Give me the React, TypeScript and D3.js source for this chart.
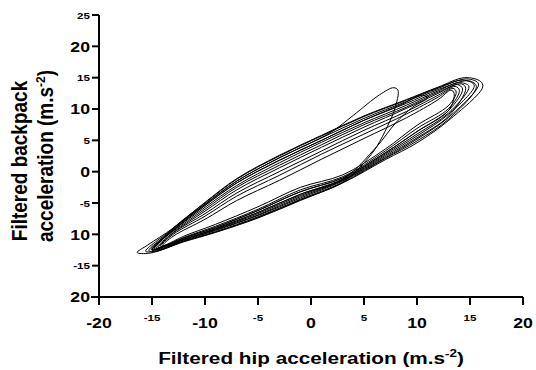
import React from "react";
import * as d3 from "d3";

type Pt = [number, number];

// Hip vs backpack acceleration traces, one closed loop per stride cycle
// (left tip, rising branch, right tip, falling branch)
const loop1: Pt[] = [[-16.4, -12.9], [-15.4, -11.7], [-13, -9.0], [-10, -4.9], [-7, -1.1], [-3, 2.6], [1, 5.8], [5, 8.9], [9, 11.5], [12, 13.5], [14.5, 15.0], [16.0, 14.4], [16.2, 13.5], [13, 8.2], [10, 4.6], [7, 1.9], [3, -1.8], [-1, -4.6], [-5, -7.4], [-9, -9.7], [-12, -11.2], [-15.2, -13.0]];
const loop2: Pt[] = [[-15.6, -12.7], [-13, -9.1], [-10, -5.2], [-7, -1.5], [-3, 2.2], [1, 5.4], [5, 8.5], [9, 11.2], [12, 13.3], [14.7, 14.8], [15.8, 14.0], [13, 8.7], [10, 5.2], [7, 2.2], [3, -1.5], [-1, -4.2], [-5, -7.0], [-9, -9.4], [-12, -11.0], [-14.5, -12.6]];
const loop3: Pt[] = [[-15.0, -12.5], [-13, -9.0], [-10, -5.0], [-7, -1.2], [-3, 2.5], [1, 5.7], [5, 8.8], [9, 11.4], [12, 13.4], [14.3, 14.6], [15.4, 13.8], [13, 9.2], [10, 5.7], [7, 2.6], [3, -1.3], [-1, -3.8], [-5, -6.7], [-9, -9.2], [-12, -10.8], [-14.2, -12.2]];
const loop4: Pt[] = [[-15.3, -12.6], [-13, -9.3], [-10, -5.4], [-7, -1.8], [-3, 1.8], [1, 5.0], [5, 8.2], [9, 10.9], [12, 13.1], [14.9, 14.5], [15.6, 13.6], [13, 8.4], [10, 4.9], [7, 2.1], [3, -1.7], [-1, -4.4], [-5, -7.2], [-9, -9.6], [-12, -11.1], [-14.6, -12.7]];
const loop5: Pt[] = [[-14.8, -12.3], [-13, -9.4], [-10, -5.7], [-7, -2.2], [-3, 1.4], [1, 4.7], [5, 7.8], [9, 10.6], [12, 12.9], [14.0, 14.2], [14.9, 13.6], [13, 9.4], [10, 6.0], [7, 2.8], [3, -1.2], [-1, -3.6], [-5, -6.5], [-9, -9.1], [-12, -10.8], [-14.0, -12.0]];
const loop6: Pt[] = [[-15.1, -12.4], [-13, -9.5], [-10, -6.0], [-7, -2.5], [-3, 1.0], [1, 4.3], [5, 7.5], [9, 10.3], [12, 12.7], [14.2, 14.0], [14.6, 13.3], [13, 8.9], [10, 5.4], [7, 2.4], [3, -1.4], [-1, -4.0], [-5, -6.9], [-9, -9.3], [-12, -10.9], [-14.4, -12.4]];
const loop7: Pt[] = [[-14.8, -12.4], [-13, -9.1], [-10, -5.2], [-7, -1.5], [-3, 2.2], [1.8, 6.2], [4, 9.0], [6.5, 12.3], [7.8, 13.4], [8.2, 13.0], [7.9, 10.0], [7.2, 7.2], [6.2, 4.0], [5.0, 1.4], [3, -1.7], [-1, -4.5], [-5, -7.3], [-9, -9.6], [-12, -11.1], [-14.2, -12.4]];
const loop8: Pt[] = [[-14.6, -12.2], [-13, -9.7], [-10, -6.3], [-7, -2.9], [-3, 0.6], [1, 3.9], [5, 7.1], [9, 10.1], [12, 12.5], [13.8, 13.9], [14.3, 13.2], [13, 9.8], [10, 6.4], [7, 3.0], [3, -1.0], [-1, -3.2], [-5, -6.2], [-9, -8.9], [-12, -10.6], [-13.9, -11.9]];
const loop9: Pt[] = [[-14.4, -12.1], [-13, -9.8], [-10, -6.7], [-7, -3.4], [-3, 0.0], [1, 3.3], [5, 6.6], [9, 9.6], [12, 12.2], [13.6, 13.6], [14.0, 13.0], [13, 10.1], [10, 6.9], [7, 3.3], [3, -0.8], [-1, -2.9], [-5, -6.0], [-9, -8.7], [-12, -10.5], [-13.8, -11.8]];
const loop10: Pt[] = [[-14.2, -11.9], [-13, -10.0], [-10, -7.1], [-7, -3.9], [-3, -0.6], [1, 2.8], [5, 6.0], [9, 9.2], [12, 11.9], [13.4, 13.3], [13.7, 12.7], [13, 10.6], [10, 7.4], [7, 3.6], [3, -0.5], [-1, -2.5], [-5, -5.6], [-9, -8.4], [-12, -10.3], [-13.6, -11.6]];
const loop11: Pt[] = [[-14.0, -11.8], [-13, -10.3], [-10, -7.6], [-7, -4.6], [-3, -1.4], [1, 2.0], [5, 5.3], [9, 8.6], [12, 11.5], [13.2, 13.0], [13.5, 12.5], [13, 9.8], [10, 6.4], [7, 3.0], [3, -1.0], [-1, -3.2], [-5, -6.2], [-9, -8.9], [-12, -10.6], [-13.6, -11.9]];
const loop12: Pt[] = [[-15.0, -12.5], [-13, -9.3], [-10, -5.4], [-7, -1.8], [-3, 1.8], [1, 5.0], [5, 8.2], [8.5, 10.7], [10.5, 12.2], [11.0, 11.8], [9.6, 10.3], [8.0, 7.8], [6.2, 4.0], [3, -1.2], [-1, -3.6], [-5, -6.5], [-9, -9.1], [-12, -10.8], [-14.3, -12.2]];

const loops: Pt[][] = [loop1, loop2, loop3, loop4, loop5, loop6, loop7, loop8, loop9, loop10, loop11, loop12];

const xTicks = [-20, -15, -10, -5, 0, 5, 10, 15, 20];
const xTickLabels = ["-20", "-15", "-10", "-5", "0", "5", "10", "15", "20"];
const yTicks = [25, 20, 15, 10, 5, 0, -5, -10, -15, -20];
const yTickLabels = ["25", "20", "15", "10", "5", "0", "-5", "10", "-15", "20"];

const FONT = "'Liberation Sans', Arial, Helvetica, sans-serif";
const STRETCH = 1.22;

export default function App() {
  const width = 536;
  const height = 370;
  const x = d3.scaleLinear().domain([-20, 20]).range([99, 523]);
  const y = d3.scaleLinear().domain([-20, 25]).range([297, 15]);

  const line = d3
    .line<Pt>()
    .x((d) => x(d[0]))
    .y((d) => y(d[1]))
    .curve(d3.curveCatmullRomClosed.alpha(0.5));

  const x0 = x(-20);
  const y0 = y(-20);

  return (
    <svg
      width={width}
      height={height}
      style={{ position: "absolute", left: 0, top: 0, background: "#fff" }}
      fontFamily={FONT}
      fontWeight="bold"
    >
      {/* traces */}
      <g fill="none" stroke="#000" strokeWidth={1}>
        {loops.map((l, i) => (
          <path key={i} d={line(l) ?? ""} />
        ))}
      </g>

      {/* y axis */}
      <line x1={x0} x2={x0} y1={y(25)} y2={y0 + 8} stroke="#000" strokeWidth={2} />
      {yTicks.map((t, i) => {
        const big = i % 2 === 1;
        return (
          <g key={"y" + t}>
            <line x1={x0 - 7} x2={x0} y1={y(t)} y2={y(t)} stroke="#000" strokeWidth={2} />
            <text
              transform={`translate(${x0 - 9},${y(t)}) scale(${STRETCH},1)`}
              textAnchor="end"
              dominantBaseline="central"
              fontSize={big ? 14.5 : 9.5}
            >
              {yTickLabels[i]}
            </text>
          </g>
        );
      })}

      {/* x axis */}
      <line x1={x0 - 8} x2={x(20)} y1={y0} y2={y0} stroke="#000" strokeWidth={2} />
      {xTicks.map((t, i) => {
        const big = i % 2 === 0;
        return (
          <g key={"x" + t}>
            <line x1={x(t)} x2={x(t)} y1={y0} y2={y0 + 8} stroke="#000" strokeWidth={2} />
            <text
              transform={`translate(${x(t)},${big ? y0 + 31 : y0 + 24}) scale(${STRETCH},1)`}
              textAnchor="middle"
              fontSize={big ? 14.5 : 9.5}
            >
              {xTickLabels[i]}
            </text>
          </g>
        );
      })}

      {/* axis titles */}
      <text
        transform={`translate(311,364) scale(${STRETCH},1)`}
        textAnchor="middle"
        fontSize={17}
      >
        Filtered hip acceleration (m.s
        <tspan fontSize={11} dy={-7}>-2</tspan>
        <tspan dy={7}>)</tspan>
      </text>
      <g transform="translate(0,161) scale(1.12,1)">
        <text transform="translate(24,0) rotate(-90)" textAnchor="middle" fontSize={19}>
          Filtered backpack
        </text>
        <text transform="translate(47.5,-5) rotate(-90)" textAnchor="middle" fontSize={19}>
          acceleration (m.s
          <tspan fontSize={12} dy={-7}>-2</tspan>
          <tspan dy={7}>)</tspan>
        </text>
      </g>
    </svg>
  );
}
